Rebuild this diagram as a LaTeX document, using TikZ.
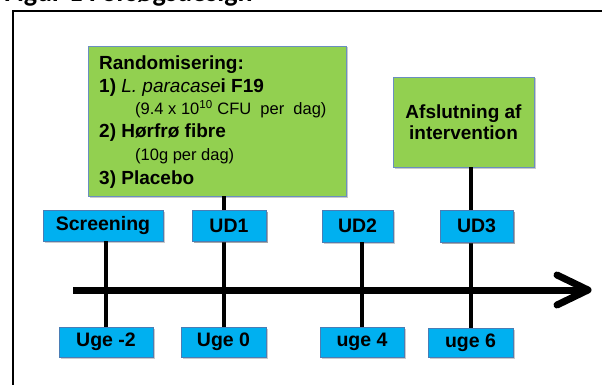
\documentclass[tikz,border=0pt]{standalone}
\usepackage{fontspec}
\setmainfont{Liberation Sans}
\newfontfamily\titlefont{Carlito}
\usetikzlibrary{shadows}
\definecolor{boxgreen}{HTML}{92D050}
\definecolor{boxblue}{HTML}{00B0F0}
\definecolor{greenedge}{HTML}{6A8EC0}
\definecolor{blueedge}{HTML}{4A7DB5}
\tikzset{
  px/.style={x=1pt,y=-1pt},
  shade/.style={drop shadow={shadow xshift=1.5pt,shadow yshift=-1.5pt,opacity=0.35,fill=black!60}},
  greenbox/.style={draw=greenedge,line width=0.8pt,fill=boxgreen,shade,inner sep=0pt},
  bluebox/.style={draw=blueedge,line width=0.6pt,fill=boxblue,shade,inner sep=0pt,
    font=\fontsize{19.5}{21}\selectfont\bfseries},
  stem/.style={line width=4pt},
  axis/.style={line width=7pt,line cap=round,line join=round},
  line/.style={anchor=base west,inner sep=0pt},
  bigtext/.style={font=\fontsize{19}{22}\selectfont\bfseries},
  smalltext/.style={font=\fontsize{16.5}{18}\selectfont}
}
\begin{document}
\begin{tikzpicture}[px]
\useasboundingbox (0,0) rectangle (602,385);
\clip (0,0) rectangle (602,385);
% caption, running off the top edge
\node[anchor=base west,inner sep=0pt,font=\titlefont\fontsize{28}{30}\selectfont\bfseries] (title) at (4,2) {Figur 1 Forsøgsdesign};
% outer frame
\draw[line width=2pt] (13,390) -- (13,11) -- (610,11);

% green boxes
\node[greenbox,minimum width=258pt,minimum height=150pt] (rand) at (217,121) {};
\node[greenbox,minimum width=141pt,minimum height=90pt,align=center,bigtext] (end) at (463.5,122)
  {Afslutning af\\[-1pt]intervention};

% text of the randomisation box
\node[line,bigtext] (r0) at (99,70) {Randomisering:};
\node[line,bigtext] (r1) at (99,93) {1) \textit{\mdseries L. paracase}i F19};
\node[line,smalltext] (r2) at (135,115) {(9.4 x 10\textsuperscript{10} CFU\ \ per\ \ dag)};
\node[line,bigtext] (r3) at (99,138) {2) Hørfrø fibre};
\node[line,smalltext] (r4) at (135,160) {(10g per dag)};
\node[line,bigtext] (r5) at (99,184) {3) Placebo};

% visits
\node[bluebox,minimum width=120pt,minimum height=31pt] (scr) at (103,225.5) {Screening};
\node[bluebox,minimum width=74pt,minimum height=31pt] (ud1) at (229,225.5) {UD1};
\node[bluebox,minimum width=71pt,minimum height=32pt] (ud2) at (357.5,226) {UD2};
\node[bluebox,minimum width=73pt,minimum height=32pt] (ud3) at (476.5,226) {UD3};

% weeks
\node[bluebox,minimum width=94pt,minimum height=30pt] (w0) at (106,342) {Uge -2};
\node[bluebox,minimum width=85pt,minimum height=30pt] (w1) at (223.5,342) {Uge 0};
\node[bluebox,minimum width=84pt,minimum height=30pt] (w2) at (362,342) {uge 4};
\node[bluebox,minimum width=85pt,minimum height=29pt] (w3) at (470.5,342.5) {uge 6};

% stems from visits to weeks
\draw[stem] (w0.north) -- (w0.north |- scr.south);
\draw[stem] (w1.north) -- (w1.north |- rand.south);
\draw[stem] (w2.north) -- (w2.north |- ud2.south);
\draw[stem] (w3.north) -- (w3.north |- end.south);
% visit boxes crossed by a stem go on top again
\node[bluebox,minimum width=74pt,minimum height=31pt] at (ud1) {UD1};
\node[bluebox,minimum width=73pt,minimum height=32pt] at (ud3) {UD3};

% time axis
\coordinate (t0) at (73,290);
\coordinate (t1) at (588,290);
\draw[line width=7pt] (t0) -- ([xshift=-4pt]t1);
\draw[axis] ([xshift=-31pt,yshift=-15pt]t1) -- (t1) -- ([xshift=-31pt,yshift=15pt]t1);
\end{tikzpicture}
\end{document}
